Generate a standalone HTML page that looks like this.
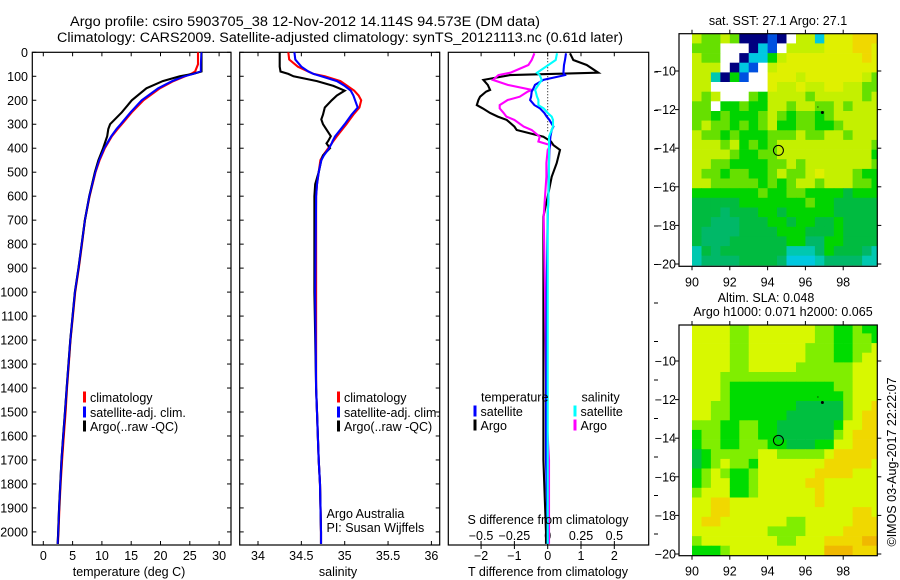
<!DOCTYPE html>
<html><head><meta charset="utf-8"><style>
html,body{margin:0;padding:0;background:#fff;}
svg{display:block;font-family:"Liberation Sans",Arial,sans-serif;}
</style></head><body>
<svg id="fig" width="900" height="580" viewBox="0 0 900 580" xmlns="http://www.w3.org/2000/svg">
<text x="70" y="26" font-size="13.5" textLength="470" lengthAdjust="spacingAndGlyphs">Argo profile: csiro 5903705_38 12-Nov-2012 14.114S 94.573E (DM data)</text>
<text x="57" y="42" font-size="13.5" textLength="566" lengthAdjust="spacingAndGlyphs">Climatology: CARS2009. Satellite-adjusted climatology: synTS_20121113.nc (0.61d later)</text>
<g id="g"></g>
</svg>
<script>
// ---------- data ----------
const tDepth=[0,50,80,90,100,120,150,200,250,300,320,350,400,450,500,600,700,800,900,1000,1100,1200,1300,1400,1500,1600,1700,1800,1900,2000,2050];
const tArgo=[27.0,27.0,27.0,25.5,23.3,20.4,17.6,15.1,13.4,11.4,11.1,10.9,10.2,9.4,8.8,7.85,7.1,6.55,6.0,5.4,5.0,4.6,4.3,4.0,3.7,3.4,3.1,2.9,2.7,2.55,2.45];
const tClim=[26.4,26.4,25.9,25.2,24.2,22.2,19.9,17.1,15.1,13.4,12.7,11.7,10.5,9.6,8.9,7.9,7.1,6.6,6.05,5.45,5.05,4.65,4.35,4.05,3.8,3.5,3.2,2.95,2.75,2.6,2.5];
const tSat=[27.0,26.9,26.9,25.6,24.0,22.0,19.6,16.8,14.9,13.2,12.5,11.6,10.4,9.5,8.85,7.85,7.1,6.55,6.0,5.4,5.0,4.6,4.3,4.0,3.7,3.4,3.1,2.9,2.7,2.55,2.45];
const sDepth=[0,30,60,80,90,100,120,140,160,180,200,230,260,280,300,350,370,380,400,430,450,500,550,600,1000,1400,1500,1700,1800,2000,2050];
const sArgo=[34.25,34.25,34.25,34.26,34.35,34.41,34.68,34.87,35.0,34.91,34.85,34.77,34.75,34.73,34.75,34.84,34.81,34.79,34.83,34.75,34.73,34.70,34.66,34.65,34.65,34.67,34.68,34.70,34.715,34.727,34.727];
const sClim=[34.35,34.36,34.46,34.58,34.64,34.77,34.95,35.03,35.11,35.16,35.19,35.17,35.10,35.06,35.02,34.91,34.87,34.85,34.81,34.75,34.72,34.70,34.68,34.67,34.67,34.67,34.68,34.70,34.715,34.727,34.727];
const sSat=[34.42,34.43,34.50,34.58,34.64,34.73,34.91,35.0,35.07,35.10,35.12,35.15,35.08,35.04,35.0,34.89,34.86,34.85,34.82,34.76,34.73,34.70,34.68,34.67,34.66,34.67,34.68,34.70,34.715,34.727,34.727];
const dDepth=[4,32,53,85,95,115,136,157,164,185,199,220,234,253,268,282,310,324,352,372,387,407,462,519,602,685,1000,1500,1700,2000,2050];
const dTArgo=[0.67,0.77,1.17,1.52,-1.13,-1.93,-1.8,-1.73,-1.85,-2.03,-2.08,-2.13,-1.95,-1.73,-1.5,-1.23,-1.0,-0.93,-0.13,0.1,0.17,0.37,0.27,0.12,0,-0.13,-0.13,-0.13,-0.13,-0.05,-0.05];
const dTSat=[0.55,0.52,0.49,0.47,0.52,-0.13,-0.38,-0.45,-0.48,-0.5,-0.53,-0.4,-0.23,-0.1,-0.03,0.05,0.17,0.12,0.08,0.07,0.07,0.05,0.04,0.03,0.02,0.0,-0.03,-0.05,-0.05,0,0];
const dSArgo=[-0.1,-0.12,-0.145,-0.28,-0.37,-0.41,-0.3,-0.12,-0.15,-0.21,-0.3,-0.36,-0.36,-0.33,-0.31,-0.25,-0.18,-0.12,-0.06,-0.07,0.02,0.0,-0.01,-0.01,-0.02,-0.03,-0.02,-0.01,0.01,0.01,0.01];
const dSSat=[0.07,0.06,0.005,-0.08,-0.06,-0.045,-0.07,-0.095,-0.09,-0.08,-0.07,-0.07,-0.03,0.0,0.03,0.04,0.04,0.03,0.01,0.01,0.01,0.01,0.01,0.01,0.005,0,0,0,0,0,0];
const depthTicks=[0,100,200,300,400,500,600,700,800,900,1000,1100,1200,1300,1400,1500,1600,1700,1800,1900,2000];
const tTicks=[0,5,10,15,20,25,30];
const sTicks=[34,34.5,35,35.5,36];
const dTTicks=[-2,-1,0,1,2];
const dSTicks=[-0.5,-0.25,0,0.25,0.5];
const dSTickLabels=["-0.5","-0.25","0","0.25","0.5"];
const latTicks=[-10,-12,-14,-16,-18,-20];
const lonTicks=[90,92,94,96,98];
const argoPos=[94.573,-14.114];
const otherFloat=[96.9,-12.15];
const sstRows=[
"YLLYLNNNBNWYYCyyyOOO","LLLWWWNCBWYYYYyyyOOy","YLLWWNCCGYyyyyyyyyOy","YYYWNCBWYyyyyyyyyyyy",
"YYTNGBWWyyyYyyyyyyYL","YYWWWWWWyYYyYYyyYYLL","YLYWWWLGYYYYLYYYYYLY","LLWGGLGGYYLYYLLYLYYY",
"LLGLGGGLYLGLLGLYYYYY","LYLLGLGLYGGLLGGLYYYY","YLLGLGGGLLLYLLYYLYYY","YYYLYGLGLYYYYYYYYYYL",
"YYYYLGGLLYYYYYYYYYYG","YYLLGGGGLLYLYYYYYYYL","YLLGLLGGLYLLYyYYYLGG","YYLLLLLGLGLYYLYYYLLG",
"GGGGGGGLGGLLGGGGEGGG","EEEEEGGGGGGGLGGEEEEE","EEEeEEEGGEGGGGGEEEEE","EEeeeEEEGGEGGEEGEEEE",
"EeeeeEEEEGGGEEEGEEEE","EeeeEEEEEEGGeeGGEEEE","TEeEEEEEEETTTeGEEEeT","TeeeeEEEEeCCCTeeeeTT"];
const slaRows=[
"yyyyLLyyyyyyyLLGGLGG","yyyyLLyyyyyyyLLGGLLG","yyyyLLyyyyyyLLLGGLLy","yyyyLLyyyyyyLLLGGLyy",
"yyyyLLyyyyyLLLLLLyyy","yyyLLLLLLLLLLLLLLyyy","yyyLGGGGGGGGGGGLLyyy","yyyLGGGGGGGGGGGGLyyy",
"yyLLGGGGGGGDDDDDLyyO","yyLLGGGGGGDDDDDDLyOO","LLLGGLLGGDDDDDDGyyOO","GLLGGLLGGDDDDDDLyOOO",
"GLLGGLLLGGDDDGGyyOOO","DGLLLLLyyLLLLLyOOOOO","DGLyLLGyyyyyyyOOOOOy","GLyLGGLyyyyyyOOOOyyy",
"GLyyGGLyyyyyOOyyyyyy","LyyyGGLyyyyyyOyyyyyy","yyOOyyyyyyyyyOyyyyyy","yyOOyyyyyyyyyyyyyOOy",
"yOOyyyyyyyLLyyyyyOOO","yyyyyyyyLLLLyyyyOOOO","LyyyyyyyyLLyyyOOOOPP","GGGLyyyyyyyyyyPPPOOO"];
const sstPal={W:"#ffffff",N:"#000080",B:"#0050e0",C:"#00c8e0",T:"#00c8b0",G:"#00d400",E:"#00bb40",e:"#00b868",L:"#66e000",Y:"#c4f000",y:"#e0f000",O:"#f0d800"};
const slaPal={y:"#d8f800",L:"#80ee00",G:"#00dc00",D:"#00c040",O:"#f0d800",P:"#f0b800"};

// ---------- helpers ----------
const NS="http://www.w3.org/2000/svg";
const root=document.getElementById('g');
function el(tag,attrs,parent){const e=document.createElementNS(NS,tag);for(const k in attrs)e.setAttribute(k,attrs[k]);(parent||root).appendChild(e);return e;}
function txt(x,y,s,anchor,size,parent){const e=el('text',{x:x,y:y,'font-size':size||12,'text-anchor':anchor||'start'},parent);e.textContent=s;return e;}
const Y0=52.3,KY=0.2398;
const yD=d=>Y0+d*KY;
const P1={l:32.3,r:231,t:52.3,b:545};
const P2={l:239.7,r:439.7,t:52.3,b:545};
const P3={l:448.3,r:648.7,t:52.3,b:545};
const xT=t=>43.3+t*5.86;
const xS=s=>258+(s-34)*86.7;
const xDT=v=>547.7+v*33.3;
const xDS=v=>547.7+v*133.3;

function frame(p,name){const r=el('rect',{x:p.l,y:p.t,width:p.r-p.l,height:p.b-p.t,fill:'none',stroke:'#000','stroke-width':1.2});

}
function series(depths,vals,xf,color,name,w){
  const pts=depths.map((d,i)=>xf(vals[i]).toFixed(1)+','+yD(d).toFixed(1)).join(' ');
  const pl=el('polyline',{points:pts,fill:'none',stroke:color,'stroke-width':w||2.1,'stroke-linejoin':'miter'});
  
  
}
function depthTickMarks(p,labels){
  depthTicks.forEach(d=>{const y=yD(d);
    el('line',{x1:p.l,x2:p.l+4,y1:y,y2:y,stroke:'#000'});
    el('line',{x1:p.r,x2:p.r-4,y1:y,y2:y,stroke:'#000'});
    if(labels){const t=txt(28,y+4.5,String(d),'end',12.5);
      
      }
  });
}
function legendEntry(x,y,color,label){
  el('rect',{x:x,y:y-6,width:3,height:11,fill:color});
  const t=txt(x+7,y+4.5,label,'start',12.5);
  
  
}

// ---------- panel 1 temperature ----------
frame(P1,'temperature-panel');
depthTickMarks(P1,true);
tTicks.forEach(v=>{const x=xT(v);
  el('line',{x1:x,x2:x,y1:P1.t,y2:P1.t+4,stroke:'#000'});
  el('line',{x1:x,x2:x,y1:P1.b,y2:P1.b-4,stroke:'#000'});
  const t=txt(x,560,String(v),'middle',12.5);
  
  
});
series(tDepth,tClim,xT,'#ff0000','temperature-climatology-line');
series(tDepth,tSat,xT,'#0000ff','temperature-satellite-line');
series(tDepth,tArgo,xT,'#000000','temperature-argo-line');
series(tDepth,tSat,xT,'#0000ff','temperature-satellite-line-overlay',1.5);
{const t=txt(129,576,'temperature (deg C)','middle',12.5);}
legendEntry(83,397.5,'#ff0000','climatology');
legendEntry(83,412.5,'#0000ff','satellite-adj. clim.');
legendEntry(83,426.5,'#000000','Argo(..raw -QC)');

// ---------- panel 2 salinity ----------
frame(P2,'salinity-panel');
depthTickMarks(P2,false);
sTicks.forEach(v=>{const x=xS(v);
  el('line',{x1:x,x2:x,y1:P2.t,y2:P2.t+4,stroke:'#000'});
  el('line',{x1:x,x2:x,y1:P2.b,y2:P2.b-4,stroke:'#000'});
  const t=txt(x,560,String(v),'middle',12.5);
  
  
});
series(sDepth,sClim,xS,'#ff0000','salinity-climatology-line');
series(sDepth,sArgo,xS,'#000000','salinity-argo-line');
series(sDepth,sSat,xS,'#0000ff','salinity-satellite-line');
{const t=txt(338,576,'salinity','middle',12.5);}
legendEntry(337,397.5,'#ff0000','climatology');
legendEntry(337,412.5,'#0000ff','satellite-adj. clim.');
legendEntry(337,426.5,'#000000','Argo(..raw -QC)');
{const t=txt(326.5,518,'Argo Australia','start',12.5);}
{const t=txt(326.5,532,'PI: Susan Wijffels','start',12.5);}

// ---------- panel 3 differences ----------
frame(P3,'difference-panel');
dTTicks.forEach(v=>{const x=xDT(v);
  el('line',{x1:x,x2:x,y1:P3.t,y2:P3.t+4,stroke:'#000'});
  el('line',{x1:x,x2:x,y1:P3.b,y2:P3.b+4,stroke:'#000'});
  const t=txt(x,560,String(v).replace('-','\u2212'),'middle',12.5);
  
  
});
dSTicks.forEach((v,i)=>{const x=xDS(v);
  el('line',{x1:x,x2:x,y1:P3.b,y2:P3.b-4,stroke:'#000'});
  const t=txt(x,540,dSTickLabels[i].replace('-','\u2212'),'middle',12.5);
  
  
});
for(let y=72;y<560;y+=38.5){el('line',{x1:654,x2:658,y1:y,y2:y,stroke:'#000'});}
el('line',{x1:xDT(0),x2:xDT(0),y1:P3.t,y2:133,stroke:'#000','stroke-width':1,'stroke-dasharray':'1,2'});
series(dDepth,dTArgo,xDT,'#000000','t-diff-argo-line');
series(dDepth,dSArgo,xDS,'#ff00ff','s-diff-argo-line');
series(dDepth,dTSat,xDT,'#0000ff','t-diff-satellite-line');
series(dDepth,dSSat,xDS,'#00ffff','s-diff-satellite-line');
{const t=txt(481,401.5,'temperature','start',12.5);}
{const t=txt(581.5,401.5,'salinity','start',12.5);}
legendEntry(473.5,411.5,'#0000ff','satellite');
legendEntry(473.5,425.5,'#000000','Argo');
legendEntry(573.5,411.5,'#00ffff','satellite');
legendEntry(573.5,425.5,'#ff00ff','Argo');
{const t=txt(548,524,'S difference from climatology','middle',12.5);}
{const t=txt(548,576,'T difference from climatology','middle',12.5);}

// ---------- maps ----------
function map(m,rows,pal,name){
  const lonX=lo=>m.x90+(lo-90)*18.9;
  const latY=la=>m.y10+(-10-la)*19.3;
  const g=el('g',{});
  
  
  const cp=el('clipPath',{id:name+'-clip'},g);
  el('rect',{x:m.l,y:m.t,width:m.r-m.l,height:m.b-m.t},cp);
  const cells=el('g',{'clip-path':'url(#'+name+'-clip)'},g);
  rows.forEach((row,ri)=>{
    const la0=-8.07-ri*0.5;
    for(let ci=0;ci<row.length;ci++){
      const lo0=90+ci*0.5;
      const x0=lonX(lo0),x1=lonX(lo0+0.5),y0=latY(la0),y1=latY(la0-0.5);
      const c=el('rect',{x:x0.toFixed(1),y:y0.toFixed(1),width:(x1-x0+0.4).toFixed(1),height:(y1-y0+0.4).toFixed(1),fill:pal[row[ci]]},cells);
      
      
    }
  });
  el('rect',{x:m.l,y:m.t,width:m.r-m.l,height:m.b-m.t,fill:'none',stroke:'#000','stroke-width':1.2},g);
  latTicks.forEach(v=>{const y=latY(v);
    el('line',{x1:m.l-4,x2:m.l,y1:y,y2:y,stroke:'#000'},g);
    el('line',{x1:m.r,x2:m.r+4,y1:y,y2:y,stroke:'#000'},g);
    const t=txt(676,y+4.5,String(v).replace('-','\u2212'),'end',12.5,g);
    
    
  });
  lonTicks.forEach(v=>{const x=lonX(v);
    el('line',{x1:x,x2:x,y1:m.t-4,y2:m.t,stroke:'#000'},g);
    el('line',{x1:x,x2:x,y1:m.b,y2:m.b+4,stroke:'#000'},g);
    const t=txt(x,m.b+20,String(v),'middle',12.5,g);
    
    
  });
  const c=el('circle',{cx:lonX(argoPos[0]),cy:latY(argoPos[1]),r:5,fill:'none',stroke:'#000','stroke-width':1},g);
  
  
  const d=el('circle',{cx:lonX(otherFloat[0]),cy:latY(otherFloat[1]),r:1.5,fill:'#000'},g);
  
  
  el('rect',{x:lonX(otherFloat[0])-5,y:latY(otherFloat[1])-6,width:1,height:1,fill:'#000'},g);
}
map({l:679,r:877.3,t:33.7,b:266.3,x90:692,y10:71},sstRows,sstPal,'sst-map');
map({l:679,r:877.3,t:325,b:555.7,x90:692,y10:361},slaRows,slaPal,'sla-map');
{const t=txt(778,25,'sat. SST: 27.1  Argo: 27.1','middle',12.5);}
{const t=txt(766,302,'Altim. SLA: 0.048','middle',12.5);}
{const t=txt(783,316,'Argo h1000: 0.071  h2000: 0.065','middle',12.5);}
{const t=txt(0,0,'\u00a9IMOS 03-Aug-2017 22:22:07','middle',12.5);t.setAttribute('transform','translate(896,462) rotate(-90)');}
</script>
</body></html>
